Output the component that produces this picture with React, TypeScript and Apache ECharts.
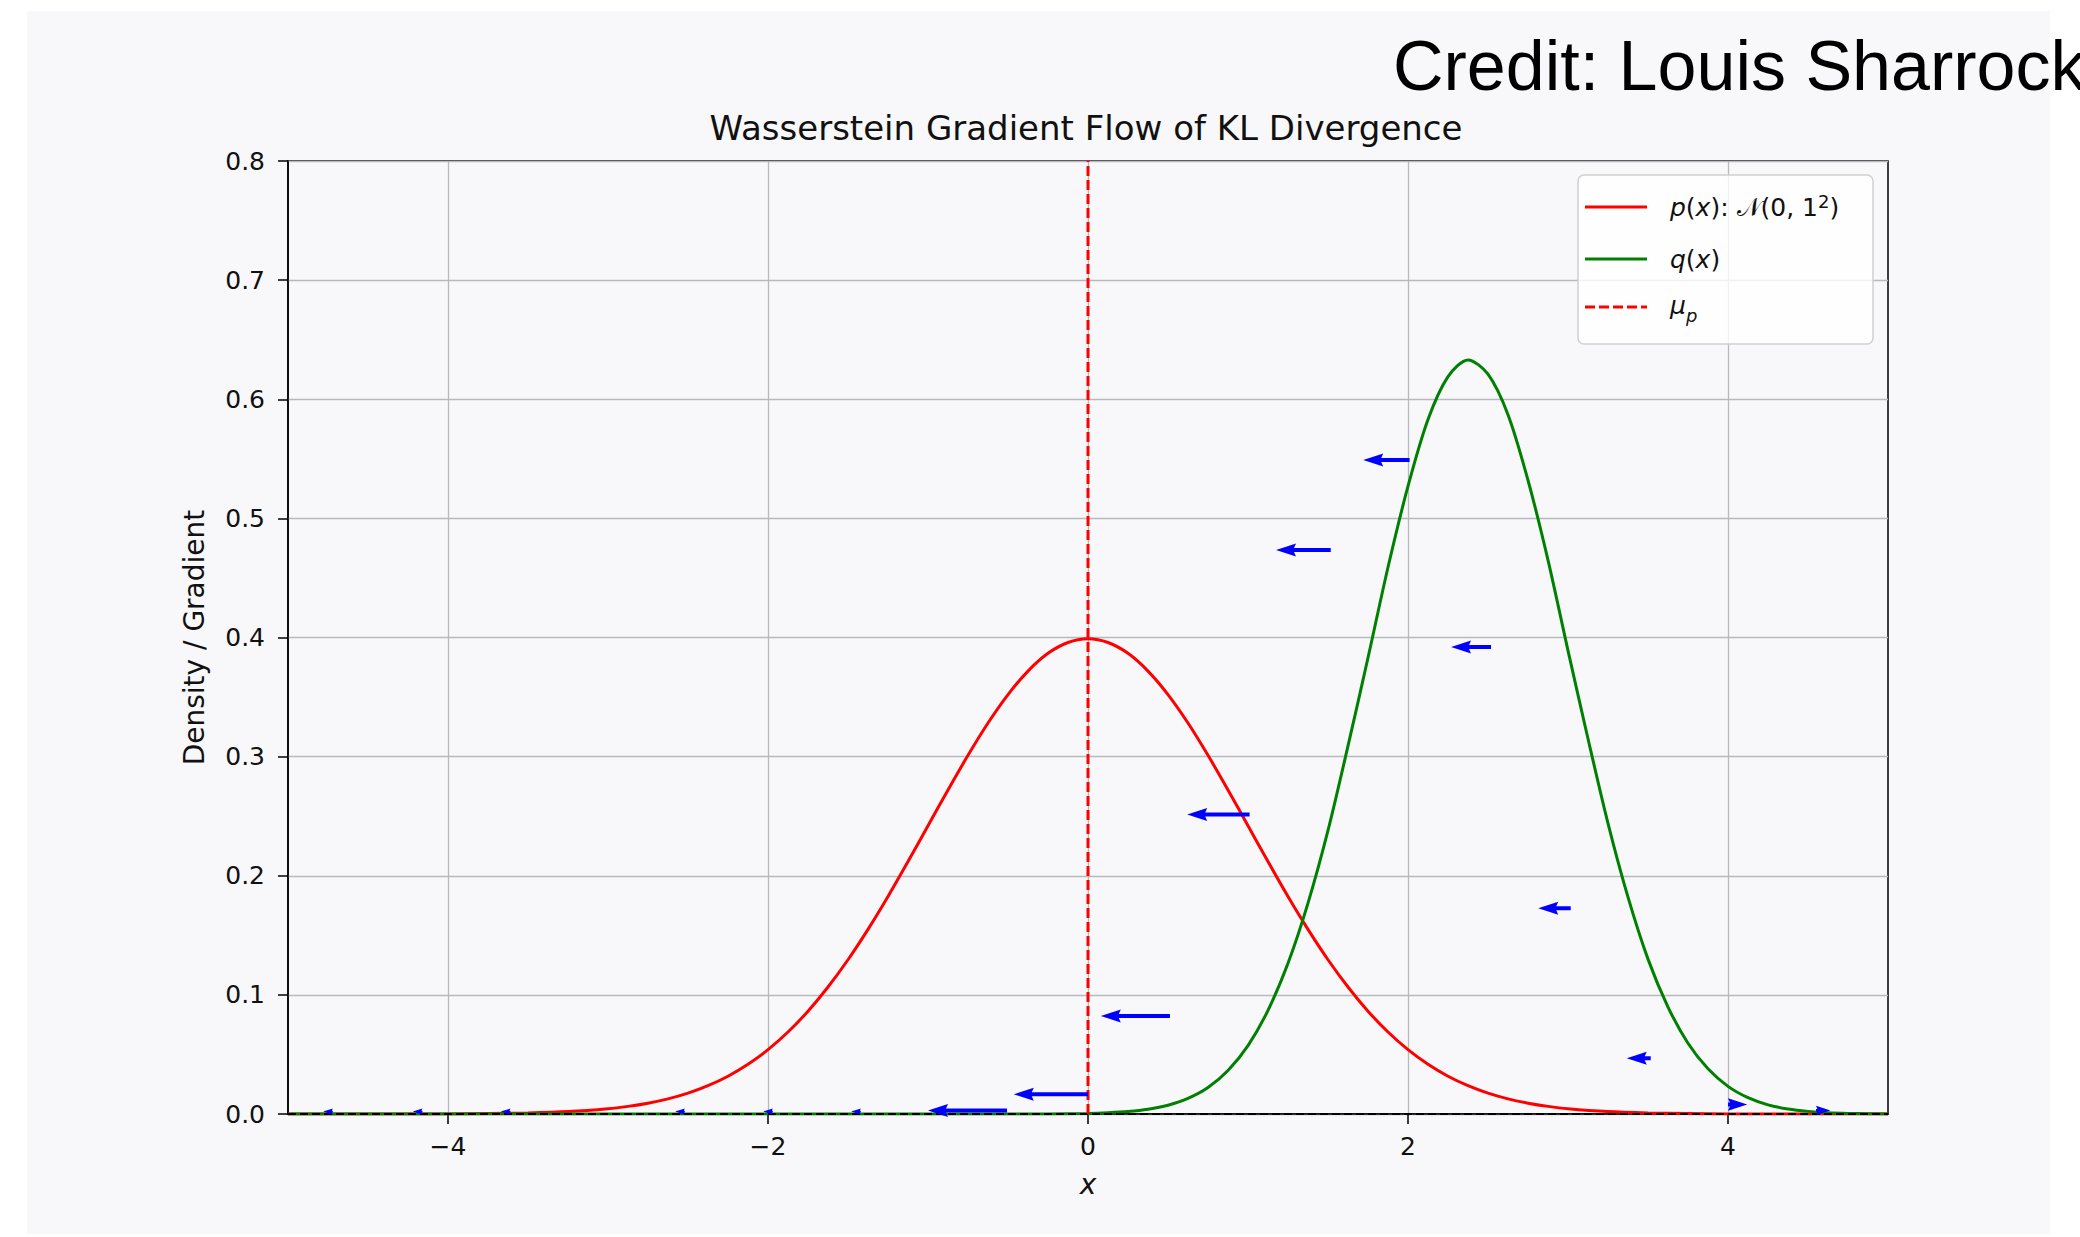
import React, { useEffect, useRef } from 'react';
import * as echarts from 'echarts';

// ---- data ----
const xTicks = [-4, -2, 0, 2, 4];
const yTicks = [0, 0.1, 0.2, 0.3, 0.4, 0.5, 0.6, 0.7, 0.8];

// p(x): N(0, 1^2)
const pX = [-5, -4.5, -4, -3.75, -3.5, -3.25, -3, -2.875, -2.75, -2.625, -2.5, -2.375, -2.25, -2.125, -2, -1.875, -1.75, -1.625, -1.5, -1.375,
  -1.25, -1.125, -1, -0.875, -0.75, -0.625, -0.5, -0.375, -0.25, -0.125, 0, 0.125, 0.25, 0.375, 0.5, 0.625, 0.75, 0.875, 1, 1.125, 1.25,
  1.375, 1.5, 1.625, 1.75, 1.875, 2, 2.125, 2.25, 2.375, 2.5, 2.625, 2.75, 2.875, 3, 3.25, 3.5, 3.75, 4, 4.5, 5];
const pY = [0, 0, 0.0001, 0.0004, 0.0009, 0.002, 0.0044, 0.0064, 0.0091, 0.0127, 0.0175, 0.0238, 0.0317, 0.0417, 0.054, 0.0688, 0.0863, 0.1066, 0.1295, 0.155,
  0.1826, 0.2119, 0.242, 0.272, 0.3011, 0.3282, 0.3521, 0.3718, 0.3867, 0.3958, 0.3989, 0.3958, 0.3867, 0.3718, 0.3521, 0.3282, 0.3011, 0.272, 0.242, 0.2119, 0.1826,
  0.155, 0.1295, 0.1066, 0.0863, 0.0688, 0.054, 0.0417, 0.0317, 0.0238, 0.0175, 0.0127, 0.0091, 0.0064, 0.0044, 0.002, 0.0009, 0.0004, 0.0001, 0, 0];

// q(x)
const qX = [-5, -4, -3, -2, -1, -0.5, -0.25, 0, 0.125, 0.25, 0.375, 0.5, 0.625, 0.75, 0.875, 1, 1.125, 1.25, 1.375, 1.5, 1.625, 1.75, 1.875,
  2, 2.125, 2.25, 2.375, 2.5, 2.625, 2.75, 2.875, 3, 3.125, 3.25, 3.375, 3.5, 3.625, 3.75, 3.875, 4, 4.125, 4.25, 4.375, 4.5, 4.625, 4.75, 4.875, 5];
const qY = [0, 0, 0, 0, 0, 0, 0.0001, 0.0005, 0.0011, 0.0021, 0.004, 0.0074, 0.0131, 0.0222, 0.0365, 0.0574, 0.087, 0.1265, 0.177, 0.238, 0.309, 0.383, 0.459,
  0.527, 0.583, 0.619, 0.633, 0.621, 0.587, 0.532, 0.465, 0.389, 0.315, 0.244, 0.182, 0.13, 0.0898, 0.0594, 0.0379, 0.0232, 0.0137, 0.0077, 0.0042, 0.0022, 0.0011, 0.0005, 0.0002, 0.0001];

// mean of p
const muP = 0;

// gradient arrows (quiver): tail x, y, head x
const arrowTailX = [2.01, 1.517, 2.519, 1.01, 3.017, 0.5125, 3.517, 0.0, 4.0, 4.55, -0.506, -4.72, -4.16, -3.61, -2.52, -1.97, -1.42];
const arrowY = [0.549, 0.4735, 0.392, 0.2514, 0.1727, 0.0823, 0.0467, 0.0165, 0.008, 0.003, 0.003, 0.002, 0.002, 0.002, 0.002, 0.002, 0.002];
const arrowHeadX = [1.72, 1.175, 2.269, 0.62, 2.814, 0.08, 3.367, -0.464, 4.12, 4.64, -1.0, -4.78, -4.22, -3.67, -2.58, -2.03, -1.48];

const fmtX = (v: number) => (v < 0 ? '\u2212' + Math.abs(v) : String(v));

export default function App() {
  const ref = useRef<HTMLDivElement>(null);

  useEffect(() => {
    if (!ref.current) return;
    const chart = echarts.init(ref.current, null, { renderer: 'svg' });

    const renderArrow = (params: any, api: any) => {
      const tx = api.value(0);
      const ty = api.value(1);
      const hx = api.value(2);
      const p0 = api.coord([tx, ty]);
      const p1 = api.coord([hx, ty]);
      const d = p1[0] >= p0[0] ? 1 : -1;
      const L = Math.abs(p1[0] - p0[0]);
      let hl = 20, hal = 18, hw = 6.5, sw = 2;
      if (L < hl) {
        const s = L / hl;
        hl = L; hal = 18 * s; hw = 6.5 * s; sw = 2 * s;
      }
      const pts = [
        [0, -sw], [L - hal, -sw], [L - hl, -hw], [L, 0], [L - hl, hw], [L - hal, sw], [0, sw],
      ].map(([x, y]) => [p0[0] + d * x, p0[1] + y]);
      return { type: 'polygon', shape: { points: pts }, style: { fill: '#0000ff' } };
    };

    const option: any = {
      animation: false,
      backgroundColor: 'transparent',
      textStyle: { fontFamily: 'DejaVu Sans' },
      title: [
        {
          text: 'Wasserstein Gradient Flow of KL Divergence',
          left: 1081, top: 106, textAlign: 'center',
          textStyle: { fontFamily: 'DejaVu Sans', fontSize: 34, fontWeight: 'normal', color: '#111' },
        },
        {
          text: 'Credit: Louis Sharrock',
          left: 1388, top: 26,
          textStyle: { fontFamily: 'Liberation Sans', fontSize: 70, fontWeight: 'normal', color: '#000' },
        },
      ],
      grid: {
        left: 288, top: 161, width: 1600, height: 953,
        show: true, borderColor: '#000', borderWidth: 1.5, backgroundColor: 'transparent',
      },
      xAxis: {
        type: 'value', min: -5, max: 5, splitNumber: 5,
        axisLine: { show: true, onZero: false, lineStyle: { color: '#000', width: 1.5 } },
        axisTick: { show: true, customValues: xTicks, length: 10, lineStyle: { color: '#000', width: 1.5 } },
        axisLabel: { customValues: xTicks, formatter: fmtX, margin: 20, fontSize: 25, color: '#111', fontFamily: 'DejaVu Sans' },
        splitLine: { show: true, lineStyle: { color: '#b8b8c0', width: 1.3 } },
        name: 'x', nameLocation: 'middle', nameGap: 56,
        nameTextStyle: { fontStyle: 'italic', fontSize: 28, color: '#111', fontFamily: 'DejaVu Sans' },
      },
      yAxis: {
        type: 'value', min: 0, max: 0.8, interval: 0.1,
        axisLine: { show: true, onZero: false, lineStyle: { color: '#000', width: 1.5 } },
        axisTick: { show: true, customValues: yTicks, length: 10, lineStyle: { color: '#000', width: 1.5 } },
        axisLabel: { customValues: yTicks, formatter: (v: number) => v.toFixed(1), margin: 23, fontSize: 25, color: '#111', fontFamily: 'DejaVu Sans' },
        splitLine: { show: true, lineStyle: { color: '#b8b8c0', width: 1.3 } },
        name: 'Density / Gradient', nameLocation: 'middle', nameGap: 80,
        nameTextStyle: { fontSize: 28, color: '#111', fontFamily: 'DejaVu Sans' },
      },
      series: [
        {
          name: 'p', type: 'line', data: pX.map((x, i) => [x, pY[i]]), smooth: 0.3, showSymbol: false,
          lineStyle: { color: '#ff0000', width: 3 }, z: 3,
        },
        {
          name: 'q', type: 'line', data: qX.map((x, i) => [x, qY[i]]), smooth: 0.3, showSymbol: false,
          lineStyle: { color: '#008000', width: 3 }, z: 3,
        },
        {
          name: 'zero', type: 'line', data: [[-5, 0], [5, 0]], showSymbol: false,
          lineStyle: { color: '#000', width: 2, type: [8, 4] }, z: 4,
        },
        {
          name: 'mu', type: 'line', data: [[muP, 0], [muP, 0.8]], showSymbol: false,
          lineStyle: { color: '#ff0000', width: 3, type: [10, 4] }, z: 4,
        },
        {
          name: 'grad', type: 'custom', renderItem: renderArrow,
          data: arrowTailX.map((t, i) => [t, arrowY[i], arrowHeadX[i]]),
          encode: { x: [0, 2], y: 1 }, z: 5,
        },
      ],
      graphic: [
        { type: 'rect', z: -100, shape: { x: 27, y: 11, width: 2023, height: 1223 }, style: { fill: '#f8f8fa' } },
        { type: 'rect', z: 100, shape: { x: 1578, y: 175, width: 295, height: 169, r: 6 }, style: { fill: 'rgba(255,255,255,0.8)', stroke: '#d0d0d0', lineWidth: 1.5 } },
        { type: 'line', z: 101, shape: { x1: 1585, y1: 207, x2: 1647, y2: 207 }, style: { stroke: '#ff0000', lineWidth: 3 } },
        { type: 'line', z: 101, shape: { x1: 1585, y1: 259, x2: 1647, y2: 259 }, style: { stroke: '#008000', lineWidth: 3 } },
        { type: 'line', z: 101, shape: { x1: 1585, y1: 307, x2: 1647, y2: 307 }, style: { stroke: '#ff0000', lineWidth: 3, lineDash: [10, 4] } },
        {
          type: 'text', z: 101, x: 1670, y: 207,
          style: {
            text: '{i|p}({i|x}): \u{1D4A9}(0, 1{sup|2})',
            fontSize: 25, fontFamily: 'DejaVu Sans', fill: '#111', verticalAlign: 'middle',
            rich: {
              i: { fontStyle: 'italic', fontSize: 25, fontFamily: 'DejaVu Sans', fill: '#111' },
              sup: { fontSize: 18, fontFamily: 'DejaVu Sans', fill: '#111', padding: [0, 0, 12, 0] },
            },
          },
        },
        {
          type: 'text', z: 101, x: 1670, y: 259,
          style: {
            text: '{i|q}({i|x})',
            fontSize: 25, fontFamily: 'DejaVu Sans', fill: '#111', verticalAlign: 'middle',
            rich: { i: { fontStyle: 'italic', fontSize: 25, fontFamily: 'DejaVu Sans', fill: '#111' } },
          },
        },
        {
          type: 'text', z: 101, x: 1670, y: 305,
          style: { text: '\u03BC', fontStyle: 'italic', fontSize: 25, fontFamily: 'DejaVu Sans', fill: '#111', verticalAlign: 'middle' },
        },
        {
          type: 'text', z: 101, x: 1686, y: 315,
          style: { text: 'p', fontStyle: 'italic', fontSize: 18, fontFamily: 'DejaVu Sans', fill: '#111', verticalAlign: 'middle' },
        },
      ],
    };

    chart.setOption(option);
    return () => chart.dispose();
  }, []);

  return (
    <div
      ref={ref}
      style={{ position: 'fixed', left: 0, top: 0, width: 2080, height: 1237, background: '#ffffff' }}
    />
  );
}
